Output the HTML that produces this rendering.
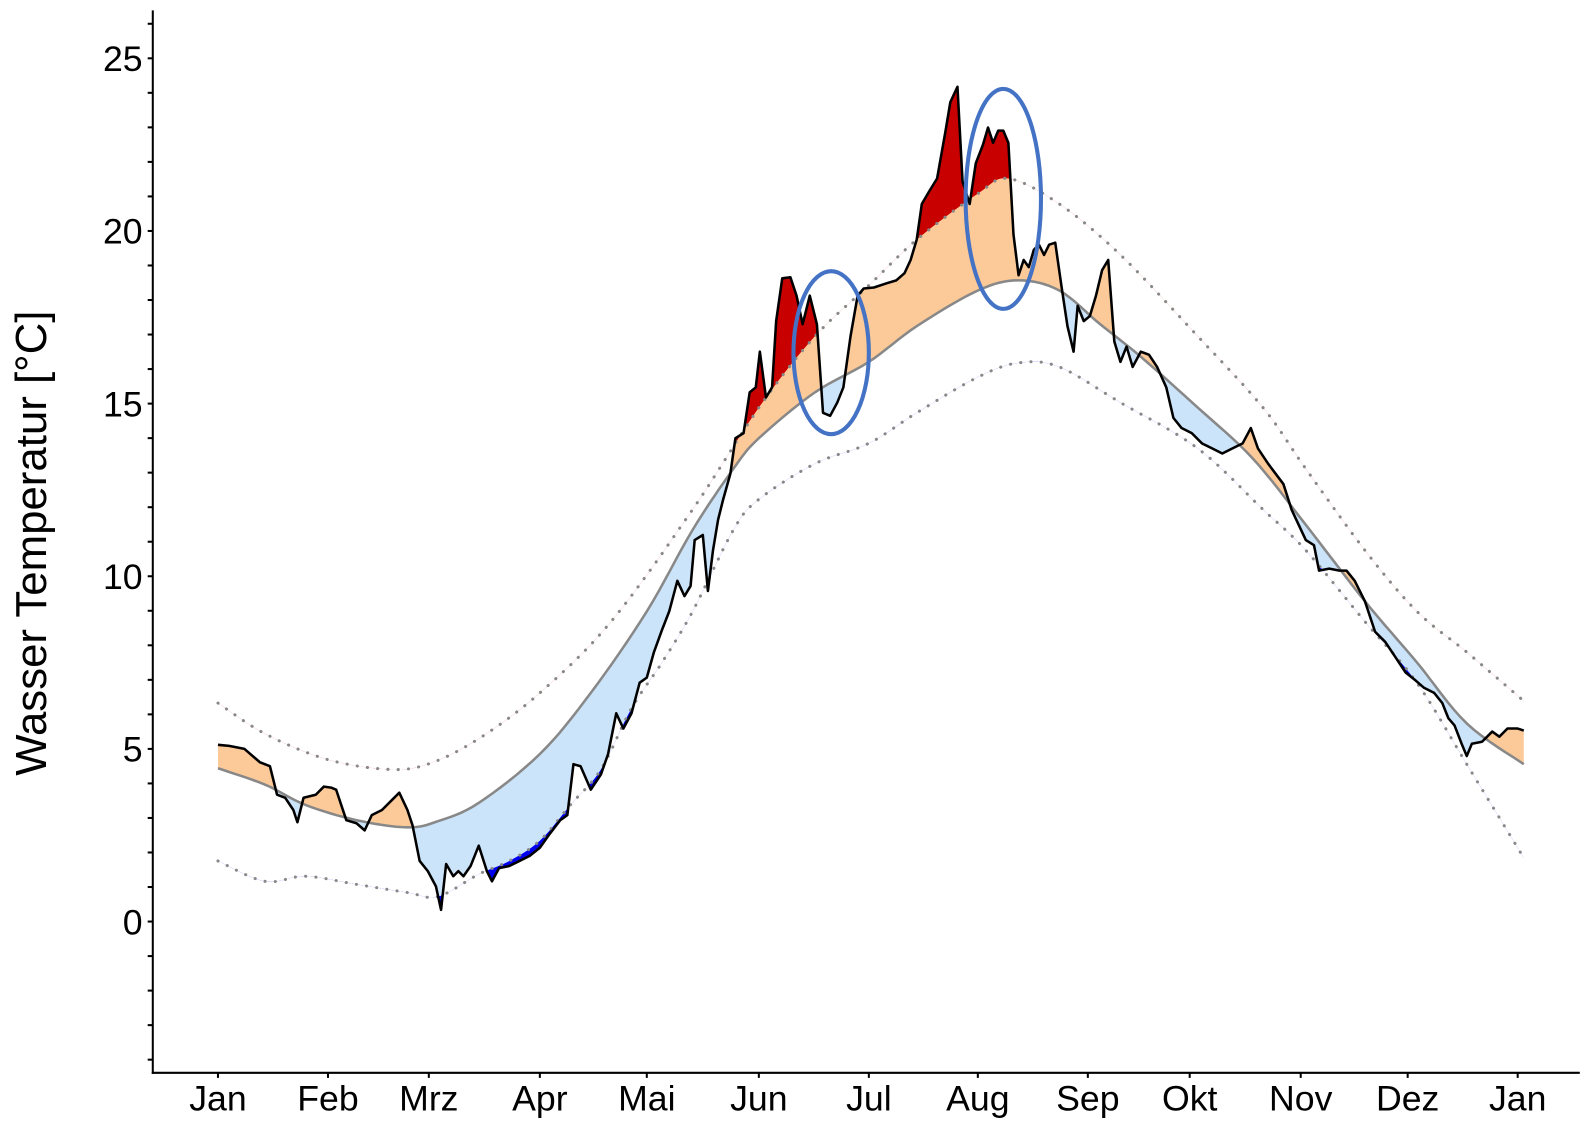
<!DOCTYPE html>
<html><head><meta charset="utf-8"><style>
html,body{margin:0;padding:0;background:#fff;}
svg{display:block;}
text{font-family:"Liberation Sans",Arial,sans-serif;fill:#000;}
</style></head><body>
<svg id="s" width="1590" height="1125" viewBox="0 0 1561 1104" xmlns="http://www.w3.org/2000/svg">
<defs>
<clipPath id="cAbove"><path id="pAbove"/></clipPath>
<clipPath id="cBelow"><path id="pBelow"/></clipPath>
<clipPath id="cUp"><path id="pUp"/></clipPath>
<clipPath id="cLo"><path id="pLo"/></clipPath>
</defs>
<g id="fills"></g>
<g id="lines"></g>
<ellipse cx="816" cy="346" rx="37" ry="80" fill="none" stroke="#4472c4" stroke-width="4"/>
<ellipse cx="985" cy="195" rx="37" ry="108" fill="none" stroke="#4472c4" stroke-width="4"/>
<g id="axes" stroke="#000" stroke-width="2"></g>
<g id="labels"></g>
<text transform="translate(45,533) rotate(-90)" text-anchor="middle" font-size="43">Wasser Temperatur [°C]</text>
</svg>
<script>
function smooth(a){var r=[];for(var i=0;i<a.length-1;i++){var p0=a[Math.max(0,i-1)],p1=a[i],p2=a[i+1],p3=a[Math.min(a.length-1,i+2)];
 for(var k=0;k<8;k++){var t=k/8,t2=t*t,t3=t2*t;
 r.push([0.5*(2*p1[0]+(-p0[0]+p2[0])*t+(2*p0[0]-5*p1[0]+4*p2[0]-p3[0])*t2+(-p0[0]+3*p1[0]-3*p2[0]+p3[0])*t3),
 0.5*(2*p1[1]+(-p0[1]+p2[1])*t+(2*p0[1]-5*p1[1]+4*p2[1]-p3[1])*t2+(-p0[1]+3*p1[1]-3*p2[1]+p3[1])*t3)]);}}
 r.push(a[a.length-1]);return r;}
var mean=smooth([[214,754],[260,770],[300,790],[350,805],[400,812],[430,806],[470,788],[530,740],[580,680],[635,600],[680,520],[720,460],[745,430],[800,385],[853,355],[900,320],[960,285],[1000,275],[1040,285],[1080,318],[1120,350],[1176,400],[1230,450],[1282,515],[1340,590],[1391,650],[1440,710],[1496,750]]);
var up=smooth([[214,690],[260,720],[320,745],[380,755],[420,750],[470,725],[530,680],[600,610],[680,500],[745,400],[800,330],[853,280],[900,235],[960,190],[990,175],[1040,200],[1100,250],[1176,330],[1240,400],[1282,460],[1340,540],[1391,600],[1440,640],[1496,688]]);
var lo=smooth([[214,845],[260,865],[300,860],[350,868],[400,876],[430,880],[470,858],[500,845],[530,825],[560,790],[590,755],[620,695],[650,650],[680,600],[720,520],[745,490],[800,455],[853,435],[900,405],[960,370],[1000,356],[1040,360],[1100,395],[1176,440],[1240,500],[1282,540],[1340,610],[1391,670],[1440,750],[1496,842]]);
var obs=[[214,731],[225,732],[240,735],[255,748],[265,752],[272,780],[280,783],[288,795],[292,807],[298,783],[310,780],[318,772],[325,773],[330,775],[335,790],[340,805],[350,808],[358,815],[365,800],[375,795],[385,785],[392,778],[400,795],[405,810],[412,845],[420,855],[428,870],[433,893],[438,848],[445,860],[450,855],[455,860],[462,850],[470,830],[478,855],[483,865],[490,852],[500,850],[510,845],[520,840],[530,832],[540,818],[550,805],[557,800],[563,750],[570,752],[580,775],[590,760],[597,740],[605,700],[612,715],[620,700],[628,670],[635,665],[642,640],[650,618],[657,600],[665,570],[672,585],[678,575],[682,530],[690,525],[695,580],[700,540],[705,510],[710,490],[717,465],[722,430],[730,425],[736,385],[742,380],[746,345],[752,390],[758,380],[762,315],[768,273],[776,272],[782,290],[788,318],[795,290],[802,318],[808,405],[815,408],[822,395],[828,380],[835,330],[842,290],[848,283],[858,282],[870,278],[880,275],[888,268],[894,255],[900,235],[905,200],[912,188],[920,175],[928,130],[933,100],[940,85],[945,178],[952,200],[958,160],[965,142],[970,125],[975,140],[980,128],[985,128],[990,140],[995,230],[1000,270],[1005,255],[1010,262],[1015,245],[1020,240],[1025,250],[1030,240],[1036,238],[1042,280],[1048,320],[1054,345],[1058,300],[1064,315],[1070,310],[1076,290],[1082,265],[1088,255],[1094,335],[1100,355],[1106,340],[1112,360],[1120,345],[1128,348],[1136,360],[1145,380],[1152,410],[1160,420],[1170,425],[1180,435],[1190,440],[1200,445],[1210,440],[1220,435],[1228,420],[1235,440],[1245,455],[1260,475],[1268,500],[1275,515],[1282,530],[1290,535],[1295,560],[1305,558],[1315,560],[1322,560],[1330,570],[1340,590],[1350,620],[1360,630],[1370,645],[1380,660],[1390,668],[1398,675],[1408,680],[1416,690],[1422,705],[1428,712],[1435,730],[1440,742],[1445,730],[1455,728],[1465,718],[1472,723],[1480,715],[1490,715],[1496,717]];
function pts(a){return a.map(function(p){return p[0].toFixed(1)+","+p[1].toFixed(1)}).join(" L");}
function d(a){return "M"+pts(a);}
function rev(a){return a.slice().reverse();}
function L(a){return a[a.length-1][1].toFixed(1);}
document.getElementById("pAbove").setAttribute("d","M0,0 L0,"+mean[0][1]+" L"+pts(mean)+" L1561,"+L(mean)+" L1561,0 Z");
document.getElementById("pBelow").setAttribute("d","M0,1104 L0,"+mean[0][1]+" L"+pts(mean)+" L1561,"+L(mean)+" L1561,1104 Z");
document.getElementById("pUp").setAttribute("d","M0,0 L0,"+up[0][1]+" L"+pts(up)+" L1561,"+L(up)+" L1561,0 Z");
document.getElementById("pLo").setAttribute("d","M0,1104 L0,"+lo[0][1]+" L"+pts(lo)+" L1561,"+L(lo)+" L1561,1104 Z");
var f=document.getElementById("fills");
var om="M"+pts(obs)+" L"+pts(rev(mean))+" Z";
var ou="M"+pts(obs)+" L"+pts(rev(up))+" Z";
var ol="M"+pts(obs)+" L"+pts(rev(lo))+" Z";
f.innerHTML='<path d="'+om+'" fill="#fcc998" clip-path="url(#cAbove)"/>'+
'<path d="'+om+'" fill="#cce4fa" clip-path="url(#cBelow)"/>'+
'<path d="'+ou+'" fill="#c80000" clip-path="url(#cUp)"/>'+
'<path d="'+ol+'" fill="#0000ee" clip-path="url(#cLo)"/>';
var l=document.getElementById("lines");
l.innerHTML='<path d="'+d(up)+'" fill="none" stroke="#888" stroke-width="3" stroke-dasharray="0.1 10" stroke-linecap="round"/>'+
'<path d="'+d(lo)+'" fill="none" stroke="#888" stroke-width="3" stroke-dasharray="0.1 10" stroke-linecap="round"/>'+
'<path d="'+d(mean)+'" fill="none" stroke="#888" stroke-width="2.5"/>'+
'<path d="'+d(obs)+'" fill="none" stroke="#000" stroke-width="2.5" stroke-linejoin="round"/>';
var ax='<line x1="150" y1="10" x2="150" y2="1054"/><line x1="149" y1="1053" x2="1551" y2="1053"/>';
var lab='';
for(var t=-4;t<=26;t++){var y=904.5-33.9*t;ax+='<line x1="145" y1="'+y+'" x2="150" y2="'+y+'"/>';
 if(t%5==0&&t>=0)lab+='<text x="140" y="'+(y+12.5)+'" text-anchor="end" font-size="35">'+t+'</text>';}
var mn=["Jan","Feb","Mrz","Apr","Mai","Jun","Jul","Aug","Sep","Okt","Nov","Dez","Jan"];
var xs=[214,322,421,530,635,745,853,960,1068,1168,1277,1382,1490];
for(var i=0;i<13;i++){var x=xs[i];
 ax+='<line x1="'+x+'" y1="1053" x2="'+x+'" y2="1058"/>';
 lab+='<text x="'+x+'" y="1090" text-anchor="middle" font-size="35">'+mn[i]+'</text>';}
document.getElementById("axes").innerHTML=ax;
document.getElementById("labels").innerHTML=lab;
</script>
</body></html>
